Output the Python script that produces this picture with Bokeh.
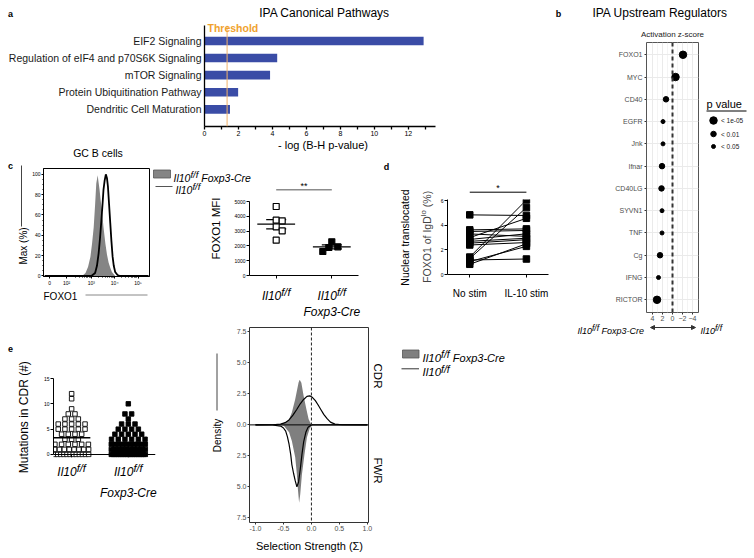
import math
from collections import defaultdict
import numpy as np
from bokeh.plotting import figure
from bokeh.layouts import column
from bokeh.models import (Range1d, Label, FixedTicker, Span, Arrow, ScrollBox,
                          NormalHead, PrintfTickFormatter)
from bokeh.embed import file_html
from bokeh.resources import INLINE

FONT = "Liberation Sans"
W, H, OFF = 750, 556, 0

# ---------------- data ----------------
# a: IPA canonical pathways
pathways = ["EIF2 Signaling", "Regulation of eIF4 and p70S6K Signaling", "mTOR Signaling",
            "Protein Ubiquitination Pathway", "Dendritic Cell Maturation"]
neglog_p = [12.9, 4.28, 3.86, 1.98, 1.5]
threshold = 1.33
a_ticks = [0, 2, 4, 6, 8, 10, 12]

# b: IPA upstream regulators
regulators = ["FOXO1", "MYC", "CD40", "EGFR", "Jnk", "Ifnar", "CD40LG", "SYVN1", "TNF", "Cg", "IFNG", "RICTOR"]
zscore = [-2.1, -0.6, 1.3, 1.9, 1.9, 2.1, 2.2, 2.1, 2.1, 2.5, 2.8, 3.1]
pclass = ["< 1e-05", "< 1e-05", "< 0.01", "< 0.05", "< 0.05", "< 0.01", "< 0.01",
          "< 0.05", "< 0.05", "< 0.01", "< 0.05", "< 1e-05"]
p_levels = ["< 1e-05", "< 0.01", "< 0.05"]
b_ticks = [-4, -2, 0, 2, 4]

# c: FOXO1 histograms (x in display decades of the biexponential axis, y in % of max)
hist_cre_u = [2.60, 2.75, 2.86, 2.96, 3.03, 3.10, 3.16, 3.21, 3.27, 3.31, 3.35, 3.40, 3.45,
              3.52, 3.60, 3.67, 3.74, 3.81, 3.88, 4.02]
hist_cre_pct = [0, 3, 9, 19, 32, 48, 70, 91, 99, 92, 85, 74, 65, 48, 32, 21, 13, 8, 4, 0]
hist_ctl_u = [1.0, 3.0, 3.16, 3.24, 3.31, 3.37, 3.43, 3.48, 3.52, 3.57, 3.62, 3.67, 3.71,
              3.76, 3.81, 3.86, 3.91, 3.96, 4.02, 4.12, 4.23, 5.45]
hist_ctl_pct = [0, 0, 3, 10, 22, 37, 55, 71, 85, 94, 100, 96, 88, 70, 52, 34, 19, 10, 4, 1, 0, 0]
c_tick_pos = [1.214, 1.942, 3.0, 4.0, 5.0]
c_tick_lab = ["0", "10²", "10³", "10⁴", "10⁵"]
c_y_ticks = [0, 20, 40, 60, 80, 100]

# c: FOXO1 MFI
mfi_ctrl = [4662, 3741, 3696, 3288, 3018, 2390]
mfi_cre = [2277, 1939, 1892, 1622]
mfi_ticks = [0, 1000, 2000, 3000, 4000, 5000]

# d: nuclear translocated FOXO1 (paired)
nostim = [4.85, 3.63, 3.50, 3.30, 3.00, 2.85, 2.70, 2.55, 2.40, 1.42, 1.30, 1.18, 1.05, 0.83]
il10stim = [4.80, 3.71, 3.58, 3.10, 4.57, 3.31, 2.95, 2.83, 2.60, 6.06, 5.44, 1.26, 2.29, 2.50]
d_ticks = [0, 2, 4, 6]

# e: mutations in CDR (number of sequences with 0..12 mutations)
mut_values = list(range(13))
mut_counts_ctrl = [12, 8, 6, 3, 4, 5, 5, 3, 2, 1, 0, 1, 1]
mut_counts_cre = [20, 14, 10, 6, 5, 4, 3, 1, 2, 0, 1, 0, 0]
e_ticks = [0, 5, 10, 15]

# e: selection strength densities
cdr_cre_x = [-0.62, -0.55, -0.46, -0.40, -0.35, -0.29, -0.23, -0.21, -0.18, -0.14, -0.09, -0.05, -0.01, 0.04]
cdr_cre_y = [0.0, 0.1, 0.19, 0.46, 1.0, 2.07, 3.41, 3.63, 3.4, 2.34, 1.26, 0.46, 0.1, 0.0]
cdr_ctl_x = [-1.0, -0.7, -0.55, -0.47, -0.40, -0.33, -0.26, -0.20, -0.14, -0.08, -0.03, 0.02,
             0.07, 0.12, 0.17, 0.22, 0.28, 0.34, 0.42, 0.55, 1.0]
cdr_ctl_y = [0, 0.01, 0.06, 0.18, 0.4, 0.78, 1.26, 1.7, 2.05, 2.3, 2.34, 2.2, 1.95, 1.6, 1.22,
             0.85, 0.5, 0.22, 0.06, 0.01, 0]
fwr_cre_x = [-0.56, -0.49, -0.40, -0.35, -0.29, -0.26, -0.24, -0.22, -0.20, -0.17, -0.125, -0.08, -0.03, 0.02]
fwr_cre_y = [0, 0.1, 0.6, 1.3, 2.6, 4.0, 5.3, 6.27, 5.6, 4.0, 2.4, 1.0, 0.27, 0]
fwr_ctl_x = [-1.0, -0.7, -0.55, -0.50, -0.46, -0.43, -0.40, -0.37, -0.35, -0.32, -0.29, -0.26,
             -0.23, -0.20, -0.17, -0.14, -0.10, -0.06, 0.0, 1.0]
fwr_ctl_y = [0, 0.01, 0.1, 0.25, 0.5, 0.95, 1.56, 2.4, 3.2, 3.9, 4.5, 5.0, 4.6, 3.6, 2.4, 1.4,
             0.6, 0.2, 0, 0]
dens_y_ticks = [-7.5, -5.0, -2.5, 0.0, 2.5, 5.0, 7.5]
dens_x_ticks = [-1.0, -0.5, 0.0, 0.5, 1.0]

# ---------------- helpers ----------------
figs = []


class Geo:
    def __init__(s, x0, y0, x1, y1, xs, xe, ys, ye):
        s.x0, s.y0, s.x1, s.y1, s.xs, s.xe, s.ys, s.ye = x0, y0, x1, y1, xs, xe, ys, ye

    def px(s, x):
        return s.x0 + (x - s.xs) / (s.xe - s.xs) * (s.x1 - s.x0)

    def ppx(s):
        return (s.x1 - s.x0) / abs(s.xe - s.xs)

    def ppy(s):
        return (s.y1 - s.y0) / abs(s.ye - s.ys)


def panel(x0, y0, x1, y1, xr, yr):
    p = figure(width=W, height=H, x_range=Range1d(*xr), y_range=Range1d(*yr),
               min_border_left=x0 - OFF, min_border_right=W - (x1 - OFF),
               min_border_top=y0 - OFF, min_border_bottom=H - (y1 - OFF),
               toolbar_location=None, output_backend="svg")
    p.background_fill_color = None
    p.border_fill_color = None
    p.outline_line_color = None
    p.grid.visible = False
    figs.append(p)
    return p, Geo(x0, y0, x1, y1, xr[0], xr[1], yr[0], yr[1])


def axstyle(ax, size, color="black", tick=3, line_color="black", lw=1, standoff=2):
    ax.major_label_text_font = FONT
    ax.major_label_text_font_size = f"{size}px"
    ax.major_label_text_color = color
    ax.major_tick_out = tick
    ax.major_tick_in = 0
    ax.minor_tick_out = 0
    ax.minor_tick_in = 0
    ax.major_tick_line_color = line_color
    ax.minor_tick_line_color = line_color
    ax.axis_line_color = line_color
    ax.axis_line_width = lw
    ax.major_tick_line_width = lw
    ax.major_label_standoff = standoff


def swarm(vals, ppy, ppx, size):
    cands = [0.0]
    for k in range(1, 20):
        cands += [k * size / 2, -k * size / 2]
    placed, res = [], [0.0] * len(vals)
    for i in sorted(range(len(vals)), key=lambda j: -vals[j]):
        y = vals[i] * ppy
        for c in cands:
            if all((c - dx) ** 2 + (y - yy) ** 2 >= (0.98 * size) ** 2 for dx, yy in placed):
                break
        placed.append((c, y))
        res[i] = c / ppx
    return res


def row_offsets(vals, half_px, max_step, ppx):
    groups = defaultdict(list)
    for i, v in enumerate(vals):
        groups[v].append(i)
    off = [0.0] * len(vals)
    for v, idx in groups.items():
        n = len(idx)
        if n < 2:
            continue
        step = min(max_step, 2 * half_px / (n - 1))
        for k, i in enumerate(idx):
            off[i] = (k - (n - 1) / 2) * step / ppx
    return off


# ---------------- panel a ----------------
pa, ga = panel(204, 25, 435, 126, (0, 13.6), (0, 5.9))
ya = [len(pathways) - i for i in range(len(pathways))]
pa.hbar(y=ya, left=0, right=neglog_p, height=0.5, fill_color="#3A4CA6", line_color=None)
pa.add_layout(Span(location=threshold, dimension="height", line_color="#F3B26A", line_width=1))
xa = pa.xaxis[0]
axstyle(xa, 7, tick=3, lw=1.3, standoff=1)
xa.ticker = FixedTicker(ticks=a_ticks, minor_ticks=[t + 1 for t in a_ticks])
xa.minor_tick_out = 3
xa.minor_tick_line_width = 1.3
yax = pa.yaxis[0]
axstyle(yax, 10.5, color="#1a1a1a", tick=0, lw=1.3, standoff=3)
yax.ticker = FixedTicker(ticks=ya)
yax.major_label_overrides = {y: name for y, name in zip(ya, pathways)}

# ---------------- panel b ----------------
pb, gb = panel(646, 42, 698, 312, (5.2, -5.2), (0.43, 12.55))
pb.background_fill_color = "white"
pb.outline_line_color = "#555555"
pb.outline_line_width = 1
yb = [len(regulators) - i for i in range(len(regulators))]
pb.grid.visible = True
pb.xgrid.ticker = FixedTicker(ticks=b_ticks, minor_ticks=[-3, -1, 1, 3])
pb.ygrid.ticker = FixedTicker(ticks=yb)
pb.grid.grid_line_color = "#EAEAEA"
pb.xgrid.minor_grid_line_color = "#F4F4F4"
size_map = {"< 1e-05": 7.5, "< 0.01": 5.5, "< 0.05": 4}
pb.add_layout(Span(location=0, dimension="height", line_color="#333333", line_width=2, line_dash="4 3"))
pb.scatter(x=zscore, y=yb, size=[size_map[c] for c in pclass], color="black")
xb = pb.xaxis[0]
axstyle(xb, 7, color="#4D4D4D", tick=2, line_color="#333333", standoff=1)
xb.axis_line_color = None
xb.ticker = FixedTicker(ticks=b_ticks)
ybx = pb.yaxis[0]
axstyle(ybx, 7, color="#4D4D4D", tick=2, line_color="#333333", standoff=2)
ybx.axis_line_color = None
ybx.ticker = FixedTicker(ticks=yb)
ybx.major_label_overrides = {y: n for y, n in zip(yb, regulators)}

# ---------------- panel c histogram ----------------
pc, gc = panel(43, 168, 149, 276, (0.95, 5.49), (-0.5, 105.7))
pc.outline_line_color = "black"
pc.outline_line_width = 1
pc.varea(x=hist_cre_u, y1=0, y2=hist_cre_pct, fill_color="#858585")
pc.line(hist_ctl_u, hist_ctl_pct, line_color="black", line_width=1.8)
xc = pc.xaxis[0]
axstyle(xc, 5, tick=2, standoff=1)
xc.ticker = FixedTicker(ticks=c_tick_pos,
                        minor_ticks=[d + math.log10(k) for d in (2, 3, 4) for k in range(2, 10)])
xc.minor_tick_out = 1
xc.major_label_overrides = {t: l for t, l in zip(c_tick_pos, c_tick_lab)}
ycx = pc.yaxis[0]
axstyle(ycx, 5, tick=2, standoff=1)
ycx.ticker = FixedTicker(ticks=c_y_ticks, minor_ticks=[v for v in range(0, 101, 5) if v % 20])
ycx.minor_tick_out = 1

# ---------------- panel c MFI ----------------
pm, gm = panel(249, 201, 358, 275, (0.52, 2.48), (0, 5000))
for k, (vals, filled) in enumerate([(mfi_ctrl, False), (mfi_cre, True)]):
    cx = k + 1
    off = swarm(vals, gm.ppy(), gm.ppx(), 6)
    m = float(np.mean(vals))
    sem = float(np.std(vals, ddof=1) / math.sqrt(len(vals)))
    pm.segment(x0=[cx - 0.34, cx, cx - 0.18, cx - 0.18], y0=[m, m - sem, m - sem, m + sem],
               x1=[cx + 0.34, cx, cx + 0.18, cx + 0.18], y1=[m, m + sem, m - sem, m + sem],
               line_color="black", line_width=1.2)
    pm.scatter(x=[cx + o for o in off], y=vals, marker="square", size=6,
               fill_color="black" if filled else "white", line_color="black", line_width=1.2)
xm = pm.xaxis[0]
axstyle(xm, 5, tick=3)
xm.ticker = FixedTicker(ticks=[1, 2])
xm.major_label_text_color = None
ymx = pm.yaxis[0]
axstyle(ymx, 5, tick=3, standoff=1)
ymx.ticker = FixedTicker(ticks=mfi_ticks)

# ---------------- panel d ----------------
pdd, gd = panel(447, 199, 548, 274, (0.607, 2.39), (0, 6.1))
pdd.multi_line(xs=[[1, 2] for _ in nostim], ys=[[a, b] for a, b in zip(nostim, il10stim)],
               line_color="black", line_width=1)
pdd.scatter(x=[1] * len(nostim), y=nostim, marker="square", size=6.5, color="black")
pdd.scatter(x=[2] * len(il10stim), y=il10stim, marker="square", size=6.5, color="black")
xd = pdd.xaxis[0]
axstyle(xd, 5, tick=3)
xd.ticker = FixedTicker(ticks=[1, 2])
xd.major_label_text_color = None
ydx = pdd.yaxis[0]
axstyle(ydx, 5, tick=3, standoff=1)
ydx.ticker = FixedTicker(ticks=d_ticks)

# ---------------- panel e mutations ----------------
pe, ge = panel(53, 378, 155, 457, (0.68, 2.48), (-0.6, 15))
for k, counts in enumerate([mut_counts_ctrl, mut_counts_cre]):
    cx = k + 1
    vals = [v for v, c in zip(mut_values, counts) for _ in range(c)]
    off = row_offsets(vals, 17, 6.7, ge.ppx())
    m = float(np.mean(vals))
    pe.scatter(x=[cx + o for o in off], y=vals, marker="square", size=4.5,
               fill_color="black" if k else "white", line_color="black", line_width=0.9)
    pe.segment(x0=[cx - 0.33], y0=[m], x1=[cx + 0.33], y1=[m], line_color="black", line_width=1.5)
xe = pe.xaxis[0]
axstyle(xe, 5, tick=3)
xe.fixed_location = 0
xe.ticker = FixedTicker(ticks=[1, 2])
xe.major_label_text_color = None
yex = pe.yaxis[0]
axstyle(yex, 5, tick=3, standoff=1)
yex.bounds = (0, 15)
yex.ticker = FixedTicker(ticks=e_ticks)

# ---------------- panel e densities ----------------
pn, gn = panel(249, 327, 368, 522, (-1.107, 1.02), (-7.87, 7.85))
pn.outline_line_color = "#333333"
pn.outline_line_width = 1
pn.varea(x=cdr_cre_x, y1=0, y2=cdr_cre_y, fill_color="#7F7F7F")
pn.varea(x=fwr_cre_x, y1=0, y2=[-v for v in fwr_cre_y], fill_color="#7F7F7F")
pn.line(cdr_ctl_x, cdr_ctl_y, line_color="black", line_width=1.2)
pn.line(fwr_ctl_x, [-v for v in fwr_ctl_y], line_color="black", line_width=1.2)
pn.add_layout(Span(location=0, dimension="width", line_color="black", line_width=1))
pn.add_layout(Span(location=0, dimension="height", line_color="#222222", line_width=1, line_dash="3 2"))
xn = pn.xaxis[0]
axstyle(xn, 7, color="#4D4D4D", tick=2, line_color="#333333", standoff=1)
xn.axis_line_color = None
xn.ticker = FixedTicker(ticks=dens_x_ticks)
xn.formatter = PrintfTickFormatter(format="%.1f")
ynx = pn.yaxis[0]
axstyle(ynx, 7, color="#4D4D4D", tick=2, line_color="#333333", standoff=1)
ynx.axis_line_color = None
ynx.ticker = FixedTicker(ticks=dens_y_ticks)
ynx.major_label_overrides = {t: f"{abs(t):.1f}" for t in dens_y_ticks}

# ---------------- overlay for free text ----------------
ov = figure(width=W, height=H, x_range=Range1d(0, W), y_range=Range1d(0, H), min_border=0,
            x_axis_type=None, y_axis_type=None, toolbar_location=None, output_backend="svg")
ov.background_fill_color = None
ov.border_fill_color = None
ov.outline_line_color = None
figs.append(ov)


def X(x):
    return x - OFF


def Y(y):
    return H - (y - OFF)


def text(x, y, s, size, align="left", baseline="middle", style="normal", color="black", angle=0.0):
    ov.add_layout(Label(x=X(x), y=Y(y), text=s, text_font=FONT, text_font_size=f"{size}px",
                        text_font_style=style, text_color=color, text_align=align,
                        text_baseline=baseline, angle=angle))


AW = {' ': 278, '(': 333, ')': 333, '%': 889, '-': 333, '/': 278, '0': 556, '1': 556, '3': 556,
      'C': 722, 'D': 722, 'F': 611, 'I': 278, 'O': 778, 'X': 667, 'e': 556, 'f': 278, 'g': 556,
      'l': 222, 'o': 556, 'p': 556, 'r': 333, 'x': 500}


def tw(s, size):
    return sum(AW.get(c, 556) for c in s) * size / 1000


def rich(x, yb, parts, align="left", style="italic"):
    total = sum(tw(t, s) for t, s, r in parts)
    if align == "center":
        x -= total / 2
    for t, s, r in parts:
        if t.strip():
            text(x, yb - r, t, s, baseline="alphabetic", style=style)
        x += tw(t, s)


def il10(size, sup, rest=None, rsize=None):
    parts = [("Il10", size, 0), ("f/f", sup, 0.3 * size)]
    if rest:
        parts += [(" ", rsize or size, 0), (rest, rsize or size, 0)]
    return parts


def seg(x0, y0, x1, y1, color="black", width=1):
    ov.segment(x0=[X(x0)], y0=[Y(y0)], x1=[X(x1)], y1=[Y(y1)], line_color=color, line_width=width)


# panel letters
for lt, (lx, ly) in zip("abcde", [(10, 13), (558, 13), (10, 165), (386, 166), (10, 348)]):
    text(lx, ly, lt, 9, style="bold", align="center")

# a
text(324, 12, "IPA Canonical Pathways", 12, align="center")
text(207, 27, "Threshold", 10.5, style="bold", color="#F0A22E")
text(322.5, 144, "- log (B-H p-value)", 11, align="center")

# b
text(659.5, 12.5, "IPA Upstream Regulators", 12, align="center")
text(672, 34, "Activation z-score", 8, align="center", color="#1a1a1a")
text(706, 103.5, "p value", 11)
seg(706, 110.5, 746, 110.5)
for i, lev in enumerate(p_levels):
    yy = [120, 133.5, 146][i]
    ov.scatter(x=[X(713)], y=[Y(yy)], size=size_map[lev], color="black")
    text(720.5, yy, lev, 6.5, color="#1a1a1a")
rich(577, 330, il10(9, 8.5, "Foxp3-Cre"))
ov.add_layout(Arrow(x_start=X(650), y_start=Y(327), x_end=X(695), y_end=Y(327),
                    start=NormalHead(size=4, fill_color="#333333", line_color="#333333"),
                    end=NormalHead(size=4, fill_color="#333333", line_color="#333333"),
                    line_color="#333333", line_width=1))
rich(700, 330, il10(9, 8.5))

# c histogram
text(97.5, 152.5, "GC B cells", 10.5, align="center")
text(23, 245.5, "Max (%)", 10, align="center", angle=math.pi / 2)
seg(21, 165, 21, 226, color="#444444")
text(43, 295.5, "FOXO1", 10)
seg(85, 294.5, 147, 294.5, color="#888888")
ov.quad(left=[X(153)], right=[X(170)], top=[Y(169.5)], bottom=[Y(177.5)],
        fill_color="#858585", line_color="#555555", line_width=0.8)
rich(173, 177.3, il10(10.5, 9.5, "Foxp3-Cre"))
seg(155, 186, 172, 186, color="#555555")
rich(175, 189.5, il10(10.5, 9.5))

# c MFI
text(215.5, 228, "FOXO1 MFI", 11.5, align="center", angle=math.pi / 2)
text((gm.px(1) + gm.px(2)) / 2, 185, "**", 9, align="center")
seg(gm.px(1), 189.3, gm.px(2), 189.3, color="#8C8C8C", width=1.5)
rich(gm.px(1), 295, il10(12, 11), align="center")
rich(gm.px(2), 295, il10(12, 11), align="center")
rich(gm.px(2), 311.5, [("Foxp3-Cre", 12, 0)], align="center")

# d
text(404, 237, "Nuclear translocated", 10.5, align="center", angle=math.pi / 2)
ypos = 282.3
for t, s, r in [("FOXO1 of IgD", 10.5, 0), ("lo", 8, 3.5), (" ", 10.5, 0), ("(%)", 10.5, 0)]:
    if t.strip():
        ov.add_layout(Label(x=X(426.3 - r), y=Y(ypos), text=t, text_font=FONT,
                            text_font_size=f"{s}px", text_align="left",
                            text_baseline="alphabetic", angle=math.pi / 2))
    ypos -= tw(t, s)
text((gd.px(1) + gd.px(2)) / 2, 187, "*", 9, align="center")
seg(gd.px(1), 191.7, gd.px(2), 191.7, color="black", width=1)
text(gd.px(1), 293.3, "No stim", 10, align="center", baseline="alphabetic")
text(gd.px(2), 293.3, "IL-10 stim", 10, align="center", baseline="alphabetic")

# e mutations
text(23, 416.7, "Mutations in CDR (#)", 12, align="center", angle=math.pi / 2)
rich(ge.px(1), 471.5, il10(12, 11), align="center")
rich(ge.px(2), 471.5, il10(12, 11), align="center")
rich(ge.px(2), 492.3, [("Foxp3-Cre", 12, 0)], align="center")

# e densities
text(216.5, 435, "Density", 10, align="center", angle=math.pi / 2)
seg(216.5, 353, 216.5, 410, color="#444444")
text(377, 375.5, "CDR", 11.5, align="center", angle=-math.pi / 2)
text(377, 470, "FWR", 11.5, align="center", angle=-math.pi / 2)
text(309, 545, "Selection Strength (Σ)", 11, align="center")
ov.quad(left=[X(402)], right=[X(418.5)], top=[Y(349.5)], bottom=[Y(357.5)],
        fill_color="#7F7F7F", line_color="#555555", line_width=0.8)
rich(422, 357.3, il10(11.5, 10.5, "Foxp3-Cre", 11))
seg(401, 368.3, 418.5, 368.3, color="#333333")
rich(422, 371.7, il10(11.5, 10.5))

# stack all full-page figures on top of each other; each is wrapped on its own so
# that no frame alignment happens between the independent panels
boxes = []
for i, f in enumerate(figs):
    box = ScrollBox(child=f, width=W, height=H, horizontal_scrollbar="hidden",
                    vertical_scrollbar="hidden")
    box.margin = (0, 0, 0, 0) if i == 0 else (-H, 0, 0, 0)
    boxes.append(box)
page = column(*boxes, spacing=0)
open("out.html", "w").write(file_html(page, INLINE))
